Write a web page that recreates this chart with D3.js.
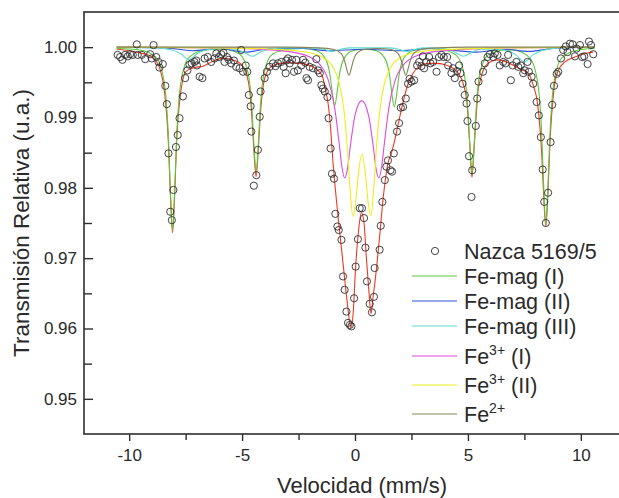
<!DOCTYPE html>
<html><head><meta charset="utf-8">
<script src="https://cdn.jsdelivr.net/npm/d3@7"></script>
<style>
body{margin:0;background:#fff}
svg{display:block;background:#fff}
text{font-family:"Liberation Sans",Arial,sans-serif;fill:#2a2a2a}
</style>
</head><body>
<svg id="chart" width="619" height="498"></svg>
<script>
// ---------------- data ----------------
const xTickValues = [-10, -5, 0, 5, 10];
const xMinorTicks = [-7.5, -2.5, 2.5, 7.5];
const yTickValues = [0.95, 0.96, 0.97, 0.98, 0.99, 1.00];
const yTickLabels = ["0.95", "0.96", "0.97", "0.98", "0.99", "1.00"];
const yMinorTicks = [0.955, 0.965, 0.975, 0.985, 0.995];
const xTitle = "Velocidad (mm/s)";
const yTitle = "Transmisión Relativa (u.a.)";
const legendLabels = ["Nazca 5169/5", "Fe-mag (I)", "Fe-mag (II)", "Fe-mag (III)", "Fe3+ (I)", "Fe3+ (II)", "Fe2+"];
const curveColors = ["#ee3a24", "#5cc83c", "#2f52d4", "#5fdccf", "#dc4ddc", "#eeee1e", "#84845a"];

// measured spectrum (velocity mm/s, relative transmission)
const dataV = [-10.51,-10.40,-10.30,-10.18,-10.06,-9.96,-9.84,-9.66,-9.62,-9.44,-9.29,-9.07,-8.92,-9.00,-8.80,-8.70,-8.51,-8.66,-8.40,-8.33,-8.26,-8.04,-8.18,-8.11,-7.93,-7.85,-7.77,-7.62,-7.52,-7.42,-7.33,-7.23,
-7.11,-7.00,-6.88,-6.76,-7.03,-6.66,-6.52,-6.37,-6.22,-6.14,-6.03,-5.92,-5.82,-5.78,-5.67,-5.59,-5.48,-5.36,-5.26,-5.11,-5.04,-4.96,-4.84,-4.77,-4.70,-4.62,-4.59,-4.37,-4.48,-4.30,-4.22,-4.18,-4.00,-3.90,-3.78,-3.63,-3.52,-3.41,-3.26,-3.16,-3.07,-3.04,
-2.97,-2.89,-2.79,-2.70,-2.60,-2.53,-2.38,-2.30,-2.20,-2.15,-2.08,-2.01,-1.86,-1.71,-1.64,-1.56,-1.49,-1.42,-1.34,-1.22,-1.17,-1.08,-1.02,-0.93,-0.87,-0.78,-0.72,-0.60,-0.53,-0.46,-0.38,-0.31,-0.23,-0.16,-0.04,0.03,0.13,0.21,0.31,0.40,0.46,0.53,0.65,0.75,0.84,0.87,
1.09,1.14,1.21,1.32,1.39,1.46,1.57,1.64,1.72,1.86,1.95,2.03,2.13,2.25,2.35,2.42,2.50,2.62,2.75,2.84,2.94,3.01,3.06,3.16,3.28,3.34,3.46,3.61,3.72,3.83,3.93,4.08,4.12,4.27,4.34,4.42,4.52,4.61,4.67,4.76,4.86,4.94,4.98,5.05,5.19,5.16,5.35,5.41,5.47,
5.67,5.75,5.87,5.97,6.12,6.19,6.31,6.41,6.56,6.67,6.78,6.90,6.98,7.15,7.23,7.34,7.45,7.52,7.64,7.70,7.82,7.89,8.04,8.14,8.23,8.31,8.38,8.45,8.55,8.66,8.73,8.81,8.93,9.00,9.12,9.22,9.33,9.41,9.52,9.64,9.74,9.81,9.96,10.06,10.15,10.30,10.36,10.45,10.55];
const dataT = [0.9989,0.9986,0.9982,0.9989,0.9987,0.9990,0.9989,1.0004,0.9989,0.9989,0.9983,0.9990,1.0003,0.9984,0.9986,0.9979,0.9976,0.9971,0.9945,0.9919,0.9849,0.9797,0.9766,0.9754,0.9858,0.9875,0.9899,0.9930,0.9956,0.9967,0.9975,0.9977,
0.9979,0.9974,0.9958,0.9956,0.9981,0.9984,0.9986,0.9979,0.9984,0.9991,0.9986,0.9990,0.9992,0.9979,0.9986,0.9982,0.9977,0.9981,0.9972,0.9970,0.9996,0.9965,0.9974,0.9965,0.9932,0.9916,0.9880,0.9818,0.9803,0.9854,0.9901,0.9937,0.9956,0.9965,0.9972,0.9977,0.9973,0.9977,0.9979,0.9972,0.9963,0.9981,
0.9984,0.9977,0.9982,0.9965,0.9982,0.9967,0.9974,0.9982,0.9978,0.9956,0.9953,0.9972,0.9970,0.9983,0.9967,0.9963,0.9946,0.9941,0.9937,0.9929,0.9899,0.9856,0.9820,0.9813,0.9763,0.9745,0.9740,0.9726,0.9674,0.9655,0.9624,0.9608,0.9605,0.9603,0.9643,0.9688,0.9727,0.9771,0.9771,0.9757,0.9715,0.9667,0.9635,0.9623,0.9645,0.9686,
0.9712,0.9746,0.9780,0.9811,0.9830,0.9839,0.9825,0.9823,0.9849,0.9880,0.9892,0.9914,0.9915,0.9927,0.9948,0.9955,0.9951,0.9953,0.9974,0.9979,0.9973,0.9987,0.9970,0.9979,0.9986,0.9977,0.9979,0.9965,0.9986,0.9989,0.9986,0.9986,0.9974,0.9963,0.9970,0.9956,0.9966,0.9974,0.9963,0.9948,0.9932,0.9920,0.9895,0.9845,0.9825,0.9787,0.9888,0.9927,0.9951,
0.9965,0.9977,0.9986,0.9990,0.9986,0.9991,0.9989,0.9974,0.9979,0.9977,0.9989,0.9953,0.9974,0.9979,0.9972,0.9974,0.9963,0.9967,0.9979,0.9965,0.9958,0.9948,0.9922,0.9903,0.9872,0.9826,0.9780,0.9750,0.9793,0.9865,0.9918,0.9945,0.9962,0.9965,0.9984,0.9996,1.0001,0.9993,1.0005,1.0004,0.9987,0.9998,1.0003,0.9986,0.9987,0.9976,1.0008,1.0003,0.9990];

// total fit (red)
const fitTotal = [[-10.55,0.9997],[-10.0,0.9995],[-9.55,0.9992],[-9.10,0.9988],[-8.80,0.9980],[-8.62,0.9967],[-8.44,0.9938],[-8.26,0.9862],[-8.17,0.9786],[-8.08,0.9736],[-7.99,0.9786],[-7.90,0.9864],[-7.72,0.9935],[-7.47,0.9966],[-7.10,0.9971],[-6.73,0.9973],[-6.29,0.9980],[-5.85,0.9984],[-5.41,0.9982],[-5.04,0.9976],[-4.80,0.9962],[-4.65,0.9935],[-4.56,0.9898],[-4.47,0.9850],[-4.38,0.9816],[-4.29,0.9850],[-4.20,0.9900],[-4.05,0.9948],[-3.90,0.9964],[-3.63,0.9974],[-3.04,0.9978],[-2.45,0.9977],[-1.86,0.9972],[-1.55,0.9964],[-1.42,0.9956],[-1.30,0.9938],[-1.20,0.9922],[-1.10,0.9892],[-0.97,0.9835],[-0.75,0.9759],[-0.53,0.9693],[-0.34,0.9636],[-0.18,0.9601],[-0.08,0.9622],[0.02,0.9683],[0.16,0.9740],[0.28,0.9765],[0.40,0.9750],[0.50,0.9702],[0.61,0.9655],[0.71,0.9621],[0.80,0.9645],[0.87,0.9662],[1.09,0.9731],[1.24,0.9783],[1.36,0.9815],[1.46,0.9835],[1.61,0.9849],[1.76,0.9868],[1.95,0.9896],[2.13,0.9922],[2.35,0.9948],[2.57,0.9963],[2.87,0.9973],[3.24,0.9977],[3.61,0.9977],[3.98,0.9975],[4.34,0.9970],[4.57,0.9963],[4.79,0.9948],[4.96,0.9920],[5.09,0.9858],[5.18,0.9815],[5.27,0.9855],[5.36,0.9900],[5.45,0.9939],[5.53,0.9951],[5.75,0.9972],[6.05,0.9980],[6.34,0.9982],[6.71,0.9979],[7.08,0.9973],[7.38,0.9968],[7.67,0.9963],[7.89,0.9946],[8.09,0.9918],[8.27,0.9848],[8.36,0.9785],[8.45,0.9745],[8.54,0.9790],[8.63,0.9862],[8.81,0.9940],[9.00,0.9967],[9.30,0.9979],[9.74,0.9986],[10.18,0.9991],[10.55,0.9993]];

// Fe-mag (I) sextet
const feMag1 = [[-10.55,0.9998],[-9.52,0.9996],[-8.80,0.9985],[-8.44,0.9948],[-8.26,0.9870],[-8.17,0.9792],[-8.08,0.9740],[-7.99,0.9792],[-7.90,0.9870],[-7.72,0.9948],[-7.36,0.9985],[-6.64,0.9996],[-5.82,0.9997],[-5.10,0.9990],[-4.74,0.9964],[-4.56,0.9911],[-4.47,0.9858],[-4.38,0.9822],[-4.29,0.9858],[-4.20,0.9911],[-4.02,0.9964],[-3.66,0.9990],[-2.94,0.9997],[-2.30,0.9998],[-1.70,0.9995],[-1.30,0.9983],[-1.10,0.9959],[-1.00,0.9934],[-0.90,0.9917],[-0.80,0.9934],[-0.70,0.9959],[-0.50,0.9983],[-0.10,0.9995],[0.42,0.9997],[0.94,0.9995],[1.34,0.9983],[1.54,0.9958],[1.64,0.9932],[1.74,0.9915],[1.84,0.9932],[1.94,0.9958],[2.14,0.9983],[2.54,0.9995],[3.10,0.9998],[3.74,0.9997],[4.46,0.9989],[4.82,0.9964],[5.00,0.9910],[5.09,0.9856],[5.18,0.9820],[5.27,0.9856],[5.36,0.9910],[5.54,0.9964],[5.90,0.9989],[6.62,0.9996],[7.01,0.9996],[7.73,0.9985],[8.09,0.9950],[8.27,0.9874],[8.36,0.9798],[8.45,0.9748],[8.54,0.9798],[8.63,0.9874],[8.81,0.9950],[9.17,0.9985],[9.89,0.9996],[10.60,0.9998]];

// Fe-mag (II) sextet (very weak)
const feMag2 = [[-10.55,1.0000],[-8.4,0.9999],[-7.2,0.9995],[-6.0,0.9998],[-4.9,0.9993],[-3.6,0.9998],[-2.3,0.9998],[-1.2,0.9995],[0.4,0.9997],[2.0,0.9995],[3.4,0.9998],[5.4,0.9993],[6.6,0.9997],[7.7,0.9994],[9.0,0.9999],[10.6,1.0000]];

// Fe-mag (III) sextet
const feMag3 = [[-10.55,1.0000],[-8.85,0.9999],[-8.10,0.9996],[-7.73,0.9991],[-7.35,0.9982],[-6.98,0.9991],[-6.60,0.9996],[-5.85,0.9998],[-5.30,0.9997],[-4.93,0.9993],[-4.55,0.9987],[-4.18,0.9993],[-3.80,0.9997],[-3.05,0.9999],[-1.75,0.9999],[-1.38,0.9997],[-1.00,0.9994],[-0.63,0.9997],[-0.25,0.9999],[0.65,0.9999],[1.55,0.9999],[1.93,0.9997],[2.30,0.9994],[2.68,0.9997],[3.05,0.9999],[4.05,0.9997],[4.43,0.9993],[4.80,0.9987],[5.18,0.9993],[5.55,0.9997],[6.15,0.9997],[6.75,0.9995],[7.13,0.9989],[7.50,0.9979],[7.88,0.9989],[8.25,0.9995],[9.00,0.9999],[10.60,1.0000]];

// Fe3+ (I) doublet
const fe3p1 = [[-10.55,1.0000],[-6.0,0.9999],[-3.0,0.9994],[-2.0,0.9986],[-1.5,0.9973],[-1.2,0.9955],[-0.9,0.9914],[-0.7,0.9863],[-0.58,0.9830],[-0.46,0.9814],[-0.34,0.9826],[-0.2,0.9861],[0.0,0.9903],[0.3,0.9924],[0.6,0.9903],[0.8,0.9861],[0.94,0.9826],[1.06,0.9814],[1.18,0.9830],[1.30,0.9863],[1.50,0.9914],[1.80,0.9955],[2.10,0.9973],[2.60,0.9986],[3.60,0.9994],[6.6,0.9999],[10.6,1.0000]];

// Fe3+ (II) doublet
const fe3p2 = [[-10.55,1.0000],[-6.0,0.9999],[-3.0,0.9996],[-2.0,0.9992],[-1.4,0.9985],[-1.0,0.9973],[-0.7,0.9949],[-0.5,0.9913],[-0.35,0.9862],[-0.22,0.9799],[-0.09,0.9759],[0.03,0.9780],[0.15,0.9820],[0.305,0.9848],[0.46,0.9820],[0.58,0.9780],[0.70,0.9760],[0.83,0.9799],[0.96,0.9862],[1.11,0.9913],[1.31,0.9949],[1.61,0.9973],[2.01,0.9985],[2.61,0.9992],[3.61,0.9996],[6.6,0.9999],[10.6,1.0000]];

// Fe2+ doublet
const fe2p = [[-10.55,1.0000],[-3.0,1.0000],[-1.67,0.9999],[-0.97,0.9997],[-0.62,0.9991],[-0.46,0.9980],[-0.37,0.9969],[-0.27,0.9960],[-0.17,0.9969],[-0.08,0.9980],[0.08,0.9991],[0.43,0.9997],[0.99,0.9998],[1.55,0.9997],[1.90,0.9991],[2.06,0.9980],[2.15,0.9969],[2.25,0.9960],[2.35,0.9969],[2.44,0.9980],[2.60,0.9991],[2.95,0.9997],[3.65,0.9999],[5.0,1.0000],[10.6,1.0000]];

// ---------------- drawing ----------------
const svg = d3.select("#chart");
const M = {left: 84, top: 12, right: 626, bottom: 434};
const x = d3.scaleLinear().domain([-12, 12]).range([M.left, M.right]);
const y = d3.scaleLinear().domain([0.945, 1.005]).range([M.bottom, M.top]);

const plot = svg.append("g");
svg.append("defs").append("clipPath").attr("id","clip")
  .append("rect").attr("x",M.left).attr("y",M.top).attr("width",M.right-M.left).attr("height",M.bottom-M.top);

const line = d3.line().x(d => x(d[0])).y(d => y(d[1])).curve(d3.curveMonotoneX);
const curves = [fitTotal, feMag1, feMag2, feMag3, fe3p1, fe3p2, fe2p];
const cg = plot.append("g").attr("clip-path","url(#clip)");
curves.forEach((c, i) => {
  cg.append("path").datum(c).attr("d", line)
    .attr("fill","none").attr("stroke",curveColors[i]).attr("stroke-width",1.1);
});

const pts = dataV.map((v, i) => [v, dataT[i]]);
cg.append("g").selectAll("circle").data(pts).join("circle")
  .attr("cx", d => x(d[0])).attr("cy", d => y(d[1])).attr("r", 3.6)
  .attr("fill","none").attr("stroke","#2e2e2e").attr("stroke-width",0.9);

// frame
svg.append("rect").attr("x",M.left).attr("y",M.top).attr("width",M.right-M.left).attr("height",M.bottom-M.top)
  .attr("fill","none").attr("stroke","#2e2e2e").attr("stroke-width",1.6);

// axes
const yAxis = d3.axisLeft(y).tickValues(yTickValues).tickFormat((d,i)=>yTickLabels[i]).tickSize(-9).tickPadding(7);
const gy = svg.append("g").attr("transform",`translate(${M.left},0)`).call(yAxis);
const gym = svg.append("g").attr("transform",`translate(${M.left},0)`).call(d3.axisLeft(y).tickValues(yMinorTicks).tickFormat("").tickSize(-8));
const xAxis = d3.axisBottom(x).tickValues(xTickValues).tickFormat(d3.format("d")).tickSize(7).tickPadding(8);
const gx = svg.append("g").attr("transform",`translate(0,${M.bottom})`).call(xAxis);
const gxm = svg.append("g").attr("transform",`translate(0,${M.bottom})`).call(d3.axisBottom(x).tickValues(xMinorTicks).tickFormat("").tickSize(6));
[gy,gym,gx,gxm].forEach(g => {
  g.select(".domain").remove();
  g.selectAll(".tick line").attr("stroke","#2e2e2e").attr("stroke-width",1.4);
  g.selectAll("text").style("font-family","'Liberation Sans',Arial,sans-serif").style("font-size","17px").attr("fill","#2a2a2a");
});
gx.selectAll("text").text(d => d < 0 ? "-" + Math.abs(d) : d);

// titles
svg.append("text").attr("x", 362).attr("y", 493).attr("text-anchor","middle")
  .style("font-size","22px").text(xTitle);
svg.append("text").attr("transform","translate(29,223) rotate(-90)").attr("text-anchor","middle")
  .style("font-size","22.5px").text(yTitle);

// legend
const rowY = [251, 276, 301, 326, 356, 385, 414];
const lg = svg.append("g");
legendLabels.forEach((lab, i) => {
  const yy = rowY[i];
  if (i === 0) {
    lg.append("circle").attr("cx",435).attr("cy",yy).attr("r",3.6).attr("fill","none").attr("stroke","#2e2e2e").attr("stroke-width",0.9);
  } else {
    lg.append("line").attr("x1",412).attr("x2",457).attr("y1",yy).attr("y2",yy).attr("stroke",curveColors[i]).attr("stroke-width",1.1);
  }
  const t = lg.append("text").attr("x",464).attr("y",yy+7.5).style("font-size","21.5px");
  const m = lab.match(/^Fe(\d\+)(.*)$/);
  if (m) {
    t.append("tspan").text("Fe");
    t.append("tspan").attr("dy",-9).style("font-size","14px").text(m[1]);
    if (m[2]) t.append("tspan").attr("dy",9).text(m[2]);
  } else {
    t.text(lab);
  }
});
</script>
</body></html>
